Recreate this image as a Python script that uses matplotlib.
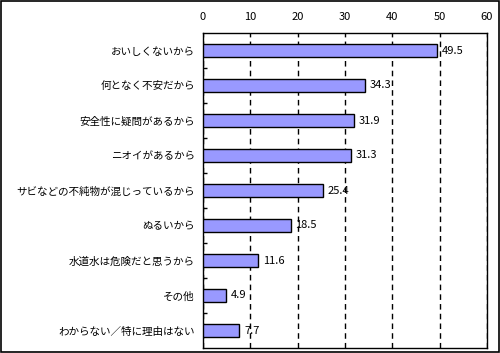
import matplotlib
matplotlib.use("Agg")
import matplotlib.pyplot as plt
from matplotlib.patches import Rectangle

plt.rcParams["font.family"] = ["Noto Sans CJK JP", "DejaVu Sans"]

categories = [
    "おいしくないから",
    "何となく不安だから",
    "安全性に疑問があるから",
    "ニオイがあるから",
    "サビなどの不純物が混じっているから",
    "ぬるいから",
    "水道水は危険だと思うから",
    "その他",
    "わからない／特に理由はない",
]
values = [49.5, 34.3, 31.9, 31.3, 25.4, 18.5, 11.6, 4.9, 7.7]
xticks = [0, 10, 20, 30, 40, 50, 60]

W, H = 500, 353
fig = plt.figure(figsize=(W / 100, H / 100), dpi=100)
ax = fig.add_axes([203 / W, 1 - 348 / H, (487 - 203) / W, (348 - 33) / H])

ypos = list(range(len(categories)))
ax.barh(ypos, values, height=0.37, color="#9999FF", edgecolor="black", linewidth=1, zorder=3)
for y, v in zip(ypos, values):
    ax.text(v + 1.0, y, f"{v}", va="center", ha="left", fontsize=8, zorder=4)

ax.set_xlim(0, 60)
ax.set_ylim(len(categories) - 0.5, -0.5)
ax.set_xticks(xticks)
ax.xaxis.tick_top()
ax.tick_params(axis="x", length=0, pad=8, labelsize=8)
ax.set_yticks(ypos)
ax.set_yticklabels(categories, fontsize=7.6)
ax.tick_params(axis="y", length=0, pad=6)
# category boundary ticks on y axis
ax.set_yticks([y + 0.5 for y in ypos[:-1]], minor=True)
ax.tick_params(axis="y", which="minor", direction="in", length=3, width=1)
ax.grid(axis="x", linestyle=(0, (4, 3)), color="black", linewidth=1, zorder=1)
for s in ax.spines.values():
    s.set_linewidth(1)
    s.set_color("black")

fig.patches.append(Rectangle((0.002, 0.003), 0.995, 0.994, transform=fig.transFigure,
                             fill=False, edgecolor="black", linewidth=1.2))

fig.savefig("out.png", dpi=100)
